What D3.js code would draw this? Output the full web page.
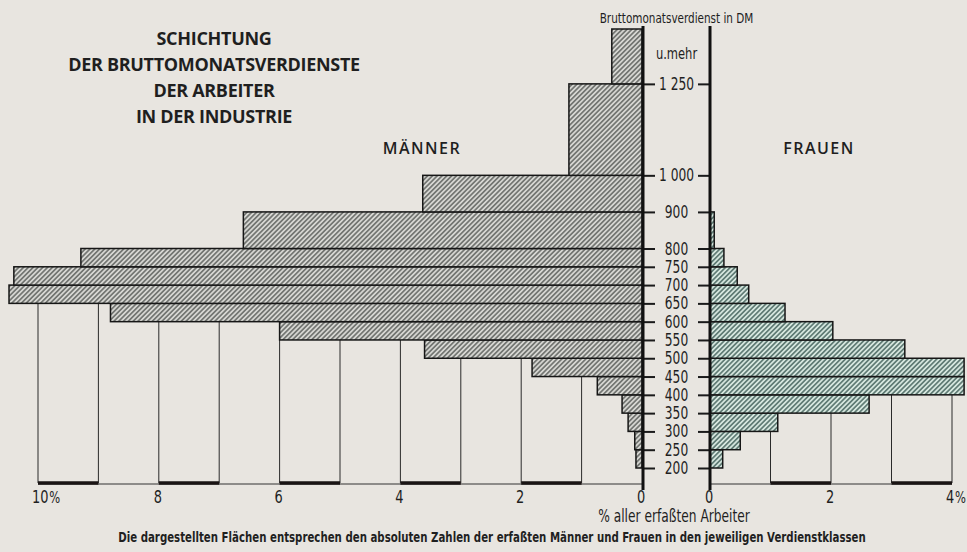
<!DOCTYPE html>
<html>
<head>
<meta charset="utf-8">
<script src="https://cdn.jsdelivr.net/npm/d3@7"></script>
<style>
  body { margin: 0; background: #e8e5e0; }
  svg { display: block; }
  text { fill: #1f1f1f; }
  .narrow { font-family: "DejaVu Sans Condensed", "DejaVu Sans", sans-serif; }
  .title { font-family: "Open Sans", "DejaVu Sans", sans-serif; font-weight: 700; font-size: 18px; letter-spacing: -0.3px; }
  .sex { font-family: "Open Sans", "DejaVu Sans", sans-serif; font-weight: 600; font-size: 16px; letter-spacing: 1.5px; }
</style>
</head>
<body>
<div id="chart"></div>
<script>
// earnings classes in DM (the last one is "u. mehr")
var classLow  = [200, 250, 300, 350, 400, 450, 500, 550, 600, 650, 700, 750, 800, 900, 1000, 1250];
var classHigh = [250, 300, 350, 400, 450, 500, 550, 600, 650, 700, 750, 800, 900, 1000, 1250, 1400];

// bar widths in % of all workers (as drawn)
var menValues   = [0.10, 0.12, 0.23, 0.33, 0.74, 1.82, 3.60, 6.00, 8.80, 10.48, 10.40, 9.29, 6.60, 3.63, 1.21, 0.50];
var womenValues = [0.21, 0.50, 1.12, 2.63, 4.20, 4.20, 3.22, 2.03, 1.24, 0.64, 0.45, 0.23, 0.07, 0, 0, 0];

var yTicks = [200, 250, 300, 350, 400, 450, 500, 550, 600, 650, 700, 750, 800, 900, 1000, 1250];
var menTicks = [0, 2, 4, 6, 8, 10];
var womenTicks = [0, 2, 4];
var menGrid = [1, 2, 3, 4, 5, 6, 7, 8, 9, 10];
var womenGrid = [1, 2, 3, 4];

var titleLines = ["SCHICHTUNG", "DER BRUTTOMONATSVERDIENSTE", "DER ARBEITER", "IN DER INDUSTRIE"];
var footnote = "Die dargestellten Flächen entsprechen den absoluten Zahlen der erfaßten Männer und Frauen in den jeweiligen Verdienstklassen";

var width = 967,
    height = 552,
    baseY = 483,
    axisTop = 26,
    axisBottom = 490,
    squeeze = 0.8;   // the printed lettering is condensed

var y = d3.scaleLinear().domain([200, 1400]).range([468, 29]);
var xMen = d3.scaleLinear().domain([0, 10]).range([642, 38]);
var xWomen = d3.scaleLinear().domain([0, 4]).range([710, 952]);

var dm = d3.formatLocale({decimal: ",", thousands: " ", grouping: [3], currency: ["", ""]}).format(",");

var svg = d3.select("#chart").append("svg")
    .attr("width", width)
    .attr("height", height);

svg.append("rect")
    .attr("width", width)
    .attr("height", height)
    .attr("fill", "#e8e5e0");

var defs = svg.append("defs");

function hatch(id, bg, fg) {
    var p = defs.append("pattern")
        .attr("id", id)
        .attr("patternUnits", "userSpaceOnUse")
        .attr("width", 3.4)
        .attr("height", 3.4)
        .attr("patternTransform", "rotate(45)");
    p.append("rect")
        .attr("width", 3.4)
        .attr("height", 3.4)
        .attr("fill", bg);
    p.append("line")
        .attr("x1", 1.7).attr("y1", 0)
        .attr("x2", 1.7).attr("y2", 3.4)
        .attr("stroke", fg)
        .attr("stroke-width", 1.3);
}
hatch("hatchMen", "#d6d6d2", "#555855");
hatch("hatchWomen", "#d5e6de", "#3c5b55");

// condensed label: placed by translate, squeezed horizontally
function narrow(sel, x, yy, size) {
    return sel.attr("class", "narrow")
        .attr("transform", function(d, i) {
            var px = typeof x === "function" ? x(d, i) : x,
                py = typeof yy === "function" ? yy(d, i) : yy;
            return "translate(" + px + "," + py + ") scale(" + squeeze + ",1)";
        })
        .style("font-size", size + "px");
}

// vertical grid lines, drawn from the base up to the first bar that covers them
function gridTop(values, p) {
    for (var i = 0; i < values.length; i++) {
        if (values[i] >= p) return y(classLow[i]);
    }
    return y(classHigh[values.length - 1]);
}

svg.append("g").selectAll("line")
    .data(menGrid)
    .enter().append("line")
    .attr("x1", function(d) { return xMen(d); })
    .attr("x2", function(d) { return xMen(d); })
    .attr("y1", baseY)
    .attr("y2", function(d) { return gridTop(menValues, d); })
    .attr("stroke", "#2a2a2a")
    .attr("stroke-width", 1);

svg.append("g").selectAll("line")
    .data(womenGrid)
    .enter().append("line")
    .attr("x1", function(d) { return xWomen(d); })
    .attr("x2", function(d) { return xWomen(d); })
    .attr("y1", baseY)
    .attr("y2", function(d) { return gridTop(womenValues, d); })
    .attr("stroke", "#2a2a2a")
    .attr("stroke-width", 1);

// base line with alternating thick segments
svg.append("line")
    .attr("x1", xMen(10)).attr("x2", xMen(0))
    .attr("y1", baseY + 1).attr("y2", baseY + 1)
    .attr("stroke", "#333").attr("stroke-width", 1);
svg.append("line")
    .attr("x1", xWomen(0)).attr("x2", xWomen(4))
    .attr("y1", baseY + 1).attr("y2", baseY + 1)
    .attr("stroke", "#333").attr("stroke-width", 1);

svg.append("g").selectAll("line")
    .data([9, 7, 5, 3, 1])
    .enter().append("line")
    .attr("x1", function(d) { return xMen(d + 1); })
    .attr("x2", function(d) { return xMen(d); })
    .attr("y1", baseY).attr("y2", baseY)
    .attr("stroke", "#1a1414").attr("stroke-width", 3.5);

svg.append("g").selectAll("line")
    .data([1, 3])
    .enter().append("line")
    .attr("x1", function(d) { return xWomen(d); })
    .attr("x2", function(d) { return xWomen(d + 1); })
    .attr("y1", baseY).attr("y2", baseY)
    .attr("stroke", "#1a1414").attr("stroke-width", 3.5);

// bars
var idx = d3.range(classLow.length);

svg.append("g").selectAll("rect")
    .data(idx.filter(function(i) { return menValues[i] > 0; }))
    .enter().append("rect")
    .attr("x", function(i) { return xMen(menValues[i]); })
    .attr("y", function(i) { return y(classHigh[i]); })
    .attr("width", function(i) { return xMen(0) - xMen(menValues[i]); })
    .attr("height", function(i) { return y(classLow[i]) - y(classHigh[i]); })
    .attr("fill", "url(#hatchMen)")
    .attr("stroke", "#161616")
    .attr("stroke-width", 1.5);

svg.append("g").selectAll("rect")
    .data(idx.filter(function(i) { return womenValues[i] > 0; }))
    .enter().append("rect")
    .attr("x", xWomen(0))
    .attr("y", function(i) { return y(classHigh[i]); })
    .attr("width", function(i) { return xWomen(womenValues[i]) - xWomen(0); })
    .attr("height", function(i) { return y(classLow[i]) - y(classHigh[i]); })
    .attr("fill", "url(#hatchWomen)")
    .attr("stroke", "#161616")
    .attr("stroke-width", 1.5);

// earnings axes (ticks only, labels go in between)
var leftAxis = svg.append("g")
    .attr("transform", "translate(" + (xMen(0) + 1) + ",0)")
    .call(d3.axisRight(y).tickValues(yTicks).tickSize(12).tickFormat(""));
var rightAxis = svg.append("g")
    .attr("transform", "translate(" + (xWomen(0) - 1) + ",0)")
    .call(d3.axisLeft(y).tickValues(yTicks).tickSize(11).tickFormat(""));
[leftAxis, rightAxis].forEach(function(a) {
    a.select(".domain").remove();
    a.selectAll(".tick line").attr("stroke", "#1a1a1a").attr("stroke-width", 2);
});

svg.append("line")
    .attr("x1", xMen(0) + 1).attr("x2", xMen(0) + 1)
    .attr("y1", axisTop).attr("y2", axisBottom)
    .attr("stroke", "#111").attr("stroke-width", 3);
svg.append("line")
    .attr("x1", xWomen(0)).attr("x2", xWomen(0))
    .attr("y1", axisTop).attr("y2", axisBottom)
    .attr("stroke", "#111").attr("stroke-width", 3);

var midX = (xMen(0) + xWomen(0)) / 2 + 0.5;

svg.append("g").selectAll("text")
    .data(yTicks)
    .enter().append("text")
    .call(narrow, midX, function(d) { return y(d) + 6; }, 17)
    .attr("text-anchor", "middle")
    .text(function(d) { return dm(d); });

svg.append("text")
    .call(narrow, midX, 59, 16)
    .attr("text-anchor", "middle")
    .text("u.mehr");

svg.append("text")
    .call(narrow, midX, 23, 14.5)
    .attr("text-anchor", "middle")
    .text("Bruttomonatsverdienst in DM");

// percentage labels; the end labels carry a narrow "%"
var labelY = 503;

function pctLabels(sel, scale, last) {
    var t = sel.enter().append("text")
        .call(narrow, function(d) { return d === last ? scale(d) - 6 : scale(d) - 1; }, labelY, 18)
        .attr("text-anchor", function(d) { return d === last ? "start" : "middle"; });
    t.append("tspan").text(function(d) { return d; });
    t.filter(function(d) { return d === last; })
        .append("tspan")
        .attr("dx", 1)
        .style("font-size", "16px")
        .text("%");
}

svg.append("g").selectAll("text")
    .data(menTicks)
    .call(pctLabels, xMen, 10);

svg.append("g").selectAll("text")
    .data(womenTicks)
    .call(pctLabels, xWomen, 4);

svg.append("text")
    .call(narrow, 674, 522, 17)
    .attr("text-anchor", "middle")
    .text("% aller erfaßten Arbeiter");

// footnote: squeezed to the printed width
var note = svg.append("text")
    .attr("class", "narrow")
    .attr("text-anchor", "middle")
    .style("font-size", "14px")
    .style("font-weight", "bold")
    .text(footnote);
var noteScale = 748 / note.node().getComputedTextLength();
note.attr("transform", "translate(492,542) scale(" + noteScale + ",1)");

// titles
svg.append("g").selectAll("text")
    .data(titleLines)
    .enter().append("text")
    .attr("class", "title")
    .attr("x", 214)
    .attr("y", function(d, i) { return 45 + i * 26; })
    .attr("text-anchor", "middle")
    .text(function(d) { return d; });

svg.append("text")
    .attr("class", "sex")
    .attr("x", 422)
    .attr("y", 154)
    .attr("text-anchor", "middle")
    .text("MÄNNER");

svg.append("text")
    .attr("class", "sex")
    .attr("x", 819)
    .attr("y", 154)
    .attr("text-anchor", "middle")
    .text("FRAUEN");
</script>
</body>
</html>
